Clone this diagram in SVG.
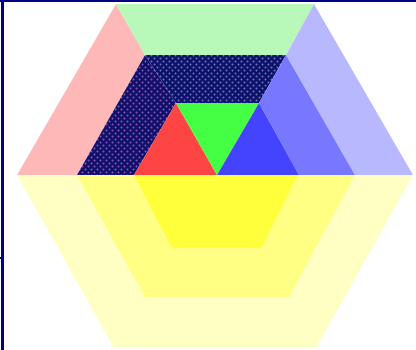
<svg xmlns="http://www.w3.org/2000/svg" width="416" height="350" viewBox="0 0 416 350">
<defs>
<pattern id="dotsL" width="6" height="6" patternUnits="userSpaceOnUse">
<rect width="6" height="6" fill="#10106a"/>
<circle cx="1.5" cy="1.5" r="1" fill="#8a5ab0"/>
<circle cx="4.5" cy="4.5" r="1" fill="#8a5ab0"/>
</pattern>
<pattern id="dotsT" width="6" height="6" patternUnits="userSpaceOnUse">
<rect width="6" height="6" fill="#10106a"/>
<circle cx="1.5" cy="1.5" r="1" fill="#5a80b8"/>
<circle cx="4.5" cy="4.5" r="1" fill="#5a80b8"/>
</pattern>
</defs>
<rect width="416" height="350" fill="#ffffff"/>
<g id="bottom">
<polygon points="17,175 413,175 316,348 114,348" fill="#ffffc4"/>
<polygon points="77,175 355,175 289,297 145,297" fill="#ffff84"/>
<polygon points="134,175 298,175 261,248 172,248" fill="#ffff3c"/>
</g>
<g id="outer-ring">
<polygon points="116,4 145,55 77,175 17,175" fill="#ffb8b8"/>
<polygon points="116,4 314,4 286,55 145,55" fill="#b8f8b8"/>
<polygon points="314,4 413,175 355,175 286,55" fill="#b8b8ff"/>
</g>
<g id="middle-ring">
<polygon points="145,55 176,103 134,175 77,175" fill="url(#dotsL)"/>
<polygon points="145,55 286,55 259,103 176,103" fill="url(#dotsT)"/>
<polygon points="286,55 355,175 299,175 259,103" fill="#7878ff"/>
</g>
<g id="inner">
<polygon points="176,103 217,175 134,175" fill="#ff4444"/>
<polygon points="176,103 259,103 217,175" fill="#44ff44"/>
<polygon points="259,103 299,175 217,175" fill="#4444ff"/>
</g>
<g id="frame" fill="#000088">
<rect x="0" y="0" width="416" height="2"/>
<rect x="1" y="0" width="3" height="350"/>
<rect x="0" y="257" width="2" height="2"/>
</g>
</svg>
